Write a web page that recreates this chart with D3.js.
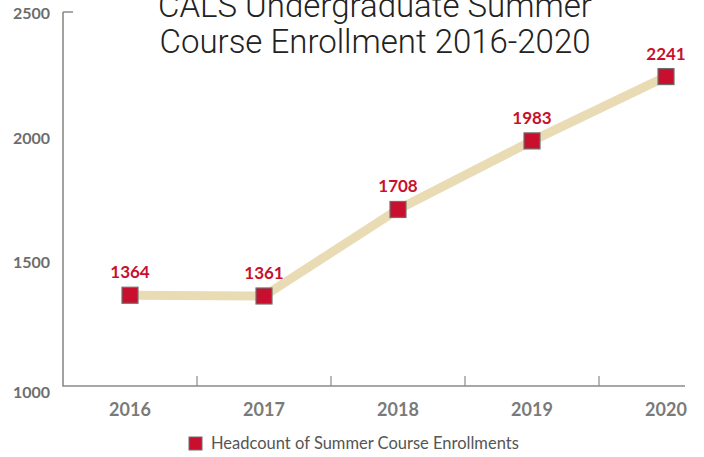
<!DOCTYPE html>
<html>
<head>
<meta charset="utf-8">
<script src="https://cdn.jsdelivr.net/npm/d3@7"></script>
<style>
  html, body { margin: 0; padding: 0; background: #fff; }
  svg { display: block; }
</style>
</head>
<body>
<div id="app"></div>
<script>
'use strict'

const years = ['2016', '2017', '2018', '2019', '2020']
const enrollments = [1364, 1361, 1708, 1983, 2241]
const yTicks = [1000, 1500, 2000, 2500]
const titleLines = ['CALS Undergraduate Summer', 'Course Enrollment 2016-2020']
const seriesName = 'Headcount of Summer Course Enrollments'

const width = 704
const height = 457
const crimson = '#c8102e'
const axisGrey = '#8a8a8a'

const svg = d3.select('#app').append('svg')
  .attr('width', width)
  .attr('height', height)

// band scale: bands 134px wide starting at the y axis
const xScale = d3.scaleBand()
  .domain(years)
  .range([63, 733])

const yScale = d3.scaleLinear()
  .domain([1000, 2500])
  .range([386, 12])

const data = years.map((y, i) => ({ year: y, value: enrollments[i] }))
const cx = d => xScale(d.year) + xScale.bandwidth() / 2

/*
 * Axes
 */
svg.append('path')
  .attr('d', `M${xScale.range()[0]},${yScale(2500)}H${xScale.range()[0] + 10}M${xScale.range()[0]},${yScale(2500)}V${yScale(1000)}H685`)
  .attr('fill', 'none')
  .attr('stroke', axisGrey)
  .attr('stroke-width', 1.6)

svg.selectAll('.xtick')
  .data(years.slice(1))
  .enter().append('line')
  .attr('class', 'xtick')
  .attr('x1', d => xScale(d))
  .attr('x2', d => xScale(d))
  .attr('y1', yScale(1000))
  .attr('y2', yScale(1000) - 10)
  .attr('stroke', axisGrey)
  .attr('stroke-width', 1.2)

svg.selectAll('.ylabel')
  .data(yTicks)
  .enter().append('text')
  .attr('class', 'ylabel')
  .attr('x', 50)
  .attr('y', d => yScale(d) + (d === 1000 ? 12 : 7))
  .attr('text-anchor', 'end')
  .style('font-family', 'Lato, sans-serif')
  .style('font-weight', 700)
  .style('font-size', '16px')
  .style('fill', '#6d6d6d')
  .text(d => d)

svg.selectAll('.xlabel')
  .data(years)
  .enter().append('text')
  .attr('class', 'xlabel')
  .attr('x', d => xScale(d) + xScale.bandwidth() / 2)
  .attr('y', 416)
  .attr('text-anchor', 'middle')
  .style('font-family', 'Lato, sans-serif')
  .style('font-weight', 700)
  .style('font-size', '18px')
  .style('fill', '#7a7a7a')
  .text(d => d)

/*
 * Title
 */
svg.selectAll('.title')
  .data(titleLines)
  .enter().append('text')
  .attr('class', 'title')
  .attr('x', 375)
  .attr('y', (d, i) => 17 + i * 36)
  .attr('text-anchor', 'middle')
  .style('font-family', 'Roboto, sans-serif')
  .style('font-weight', 300)
  .style('font-size', '33px')
  .style('fill', '#222')
  .text(d => d)

/*
 * Line and markers
 */
const line = d3.line()
  .x(cx)
  .y(d => yScale(d.value))

svg.append('path')
  .datum(data)
  .attr('d', line)
  .attr('fill', 'none')
  .attr('stroke', '#e9dcb5')
  .attr('stroke-width', 9)

const size = 16
svg.selectAll('.marker')
  .data(data)
  .enter().append('rect')
  .attr('class', 'marker')
  .attr('x', d => cx(d) - size / 2)
  .attr('y', d => yScale(d.value) - size / 2)
  .attr('width', size)
  .attr('height', size)
  .style('fill', crimson)
  .style('stroke', '#6e6e6e')
  .style('stroke-width', 1.2)

svg.selectAll('.vlabel')
  .data(data)
  .enter().append('text')
  .attr('class', 'vlabel')
  .attr('x', cx)
  .attr('y', d => yScale(d.value) - 17)
  .attr('text-anchor', 'middle')
  .style('font-family', 'Lato, sans-serif')
  .style('font-weight', 700)
  .style('font-size', '17px')
  .style('fill', crimson)
  .text(d => d.value)

/*
 * Legend
 */
const legend = svg.append('g')
  .attr('transform', 'translate(189, 437)')

legend.append('rect')
  .attr('width', 13)
  .attr('height', 13)
  .style('fill', crimson)
  .style('stroke', '#6e6e6e')
  .style('stroke-width', 1)

legend.append('text')
  .attr('x', 22)
  .attr('y', 12)
  .style('font-family', 'Lato, sans-serif')
  .style('font-size', '16.5px')
  .style('fill', '#555')
  .text(seriesName)
</script>
</body>
</html>
